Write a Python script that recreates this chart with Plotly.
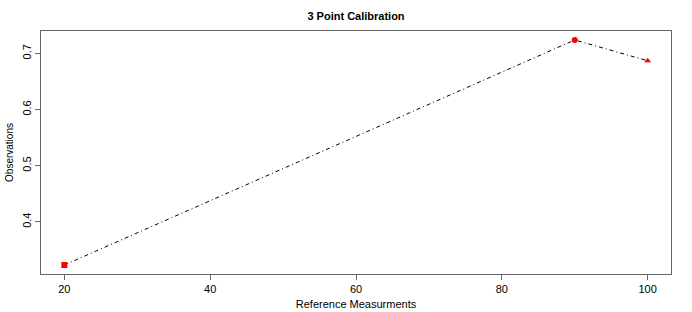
import plotly.graph_objects as go

reference = [20, 90, 100]
observations = [0.323, 0.724, 0.687]
symbols = ["square", "circle", "triangle-up"]
x_ticks = [20, 40, 60, 80, 100]
y_ticks = [0.4, 0.5, 0.6, 0.7]

fig = go.Figure()
fig.add_trace(go.Scatter(
    x=reference, y=observations, mode="lines",
    line=dict(color="black", width=1, dash="4px,3px,1px,3px"),
    showlegend=False, hoverinfo="skip"))
fig.add_trace(go.Scatter(
    x=reference, y=observations, mode="markers",
    marker=dict(color="red", size=6, symbol=symbols, line=dict(width=0)),
    showlegend=False))

font = dict(family="Liberation Sans, Arial, sans-serif", size=11, color="black")
fig.update_layout(
    width=692, height=312,
    margin=dict(l=41, r=21, t=31, b=38, autoexpand=False),
    paper_bgcolor="white", plot_bgcolor="white",
    font=font,
    title=dict(text="<b>3 Point Calibration</b>", x=0.5, xref="paper", xanchor="center",
               yref="container", y=1 - 16 / 312, yanchor="middle",
               font=dict(size=11, family=font["family"])),
    xaxis=dict(range=[16.8, 103.2], tickvals=x_ticks, showgrid=False, zeroline=False,
               showline=True, linecolor="#666", linewidth=1, mirror=True,
               ticks="outside", ticklen=5, tickcolor="#666", automargin=False,
               title=dict(text="Reference Measurments", standoff=6, font=dict(size=11)),
               tickfont=dict(size=11)),
    yaxis=dict(range=[0.307, 0.740], tickvals=y_ticks, tickformat=".1f", showgrid=False,
               zeroline=False, showline=True, linecolor="#666", linewidth=1, mirror=True,
               ticks="outside", ticklen=5, tickcolor="#666", tickangle=-90, automargin=False,
               title=dict(text="Observations", standoff=5, font=dict(size=10)),
               tickfont=dict(size=11)),
)
fig.write_html("out.html", config={"displayModeBar": False},
               post_script="document.body.style.margin='0';document.body.style.overflow='hidden';")
